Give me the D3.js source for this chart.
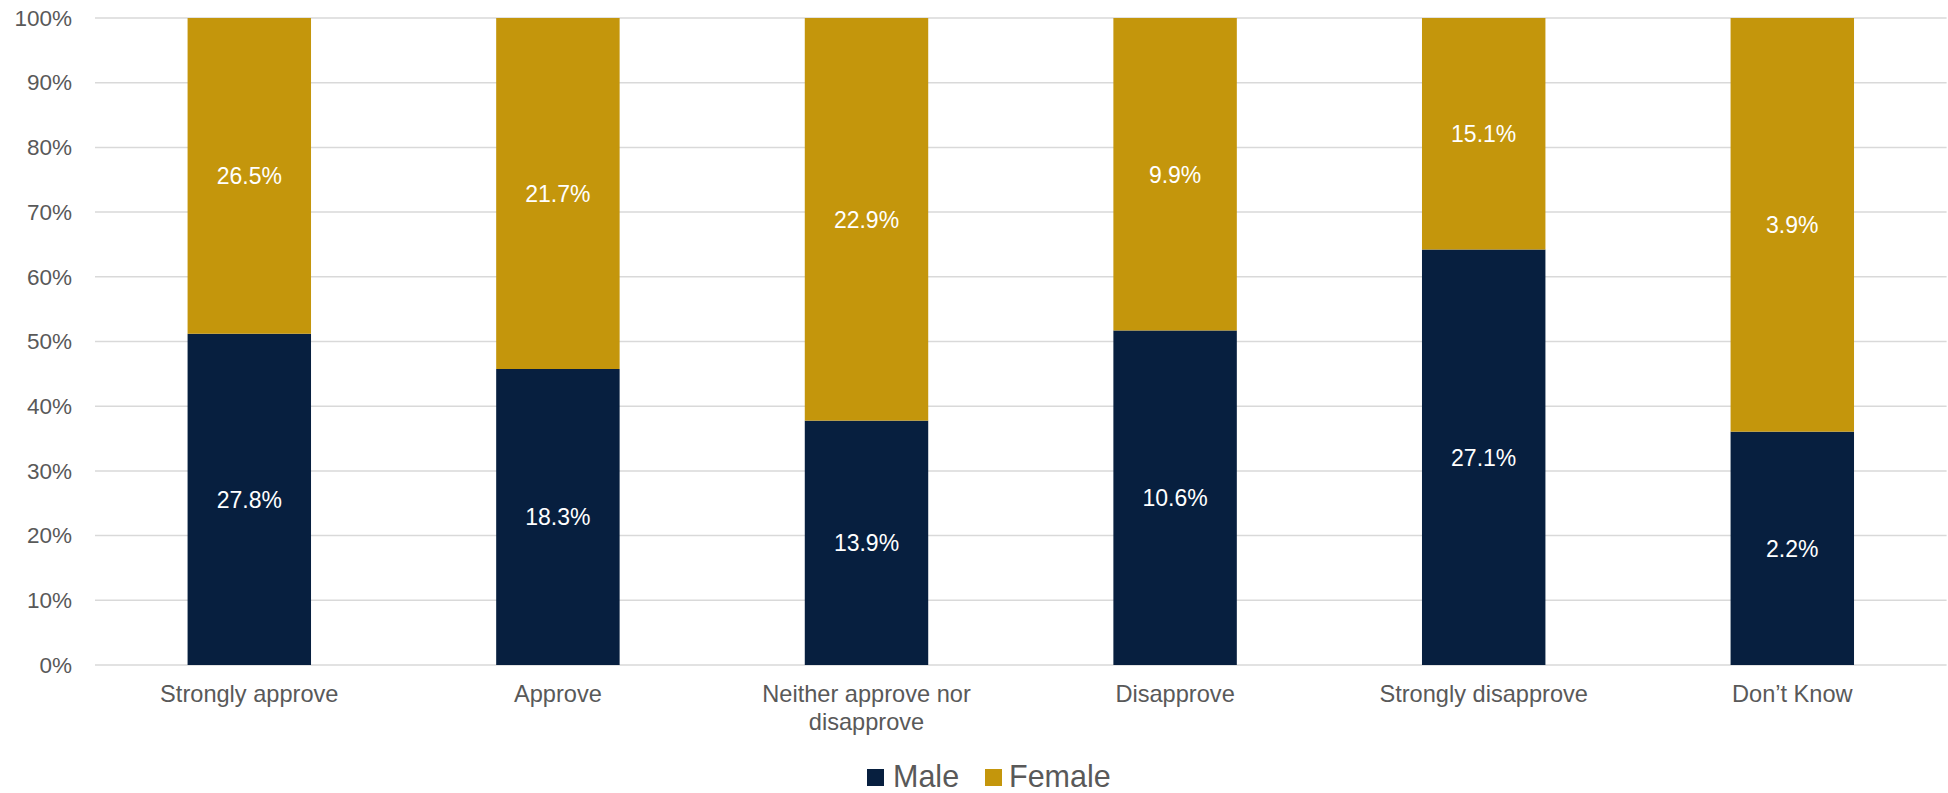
<!DOCTYPE html>
<html>
<head>
<meta charset="utf-8">
<script src="https://cdn.jsdelivr.net/npm/d3@7"></script>
<style>
  html, body { margin: 0; padding: 0; background: #ffffff; }
  svg { display: block; font-family: "Liberation Sans", Arial, sans-serif; }
</style>
</head>
<body>
<svg id="chart" width="1948" height="793"></svg>
<script>
// Responses by gender (share of all respondents, %)
const categories = ["Strongly approve", "Approve", "Neither approve nor disapprove", "Disapprove", "Strongly disapprove", "Don\u2019t Know"];
const categoryLines = [["Strongly approve"], ["Approve"], ["Neither approve nor", "disapprove"], ["Disapprove"], ["Strongly disapprove"], ["Don\u2019t Know"]];
const male = [27.8, 18.3, 13.9, 10.6, 27.1, 2.2];
const female = [26.5, 21.7, 22.9, 9.9, 15.1, 3.9];
const seriesNames = ["Male", "Female"];
const yTicks = [0, 0.1, 0.2, 0.3, 0.4, 0.5, 0.6, 0.7, 0.8, 0.9, 1.0];

const colors = { Male: "#071f3f", Female: "#c4960c" };

const svg = d3.select("#chart");
const margin = { left: 95, right: 1.4, top: 18, bottom: 128 };
const W = 1948, H = 793;

const x = d3.scaleBand()
  .domain(categories)
  .range([margin.left, W - margin.right])
  .paddingInner(0.6)
  .paddingOuter(0.3);

const y = d3.scaleLinear()
  .domain([0, 1])
  .range([H - margin.bottom, margin.top]);

// 100% stacking: each column normalised to its own total
const rows = categories.map((c, i) => ({ category: c, Male: male[i], Female: female[i] }));
const stack = d3.stack().keys(seriesNames).offset(d3.stackOffsetExpand);
const layers = stack(rows);

// Gridlines
const grid = svg.append("g");
grid.selectAll("line")
  .data(yTicks)
  .join("line")
  .attr("x1", margin.left)
  .attr("x2", W - margin.right)
  .attr("y1", d => y(d))
  .attr("y2", d => y(d))
  .attr("stroke", "#d9d9d9")
  .attr("stroke-width", 1.5);

// Y axis labels
const yAxis = d3.axisLeft(y)
  .tickValues(yTicks)
  .tickFormat(d3.format(".0%"))
  .tickSize(0)
  .tickPadding(23);
svg.append("g")
  .attr("transform", `translate(${margin.left},0)`)
  .call(yAxis)
  .call(g => g.select(".domain").remove())
  .call(g => g.selectAll("text")
    .attr("fill", "#595959")
    .attr("font-size", "22.5px")
    .attr("font-family", "Liberation Sans, Arial, sans-serif"));

// Bars
const layerG = svg.append("g")
  .selectAll("g")
  .data(layers)
  .join("g")
  .attr("fill", d => colors[d.key]);

layerG.selectAll("rect")
  .data(d => d)
  .join("rect")
  .attr("x", d => x(d.data.category))
  .attr("width", x.bandwidth())
  .attr("y", d => y(d[1]))
  .attr("height", d => y(d[0]) - y(d[1]));

// Value labels centred in each segment
const labelG = svg.append("g");
layers.forEach(layer => {
  labelG.selectAll(null)
    .data(layer)
    .join("text")
    .attr("x", d => x(d.data.category) + x.bandwidth() / 2)
    .attr("y", d => y((d[0] + d[1]) / 2))
    .attr("dy", "0.36em")
    .attr("text-anchor", "middle")
    .attr("fill", "#ffffff")
    .attr("font-size", "23px")
    .text(d => d.data[layer.key].toFixed(1) + "%");
});

// Category labels
const xLab = svg.append("g");
categories.forEach((c, i) => {
  const t = xLab.append("text")
    .attr("x", x(c) + x.bandwidth() / 2)
    .attr("y", 702)
    .attr("text-anchor", "middle")
    .attr("fill", "#595959")
    .attr("font-size", "23.6px");
  categoryLines[i].forEach((line, j) => {
    t.append("tspan")
      .attr("x", x(c) + x.bandwidth() / 2)
      .attr("dy", j === 0 ? 0 : 27.5)
      .text(line);
  });
});

// Legend
const legend = svg.append("g");
const legendItems = [
  { name: "Male", sx: 867, tx: 893 },
  { name: "Female", sx: 985, tx: 1009 }
];
legendItems.forEach(it => {
  legend.append("rect")
    .attr("x", it.sx)
    .attr("y", 769)
    .attr("width", 17)
    .attr("height", 17)
    .attr("fill", colors[it.name]);
  legend.append("text")
    .attr("x", it.tx)
    .attr("y", 787)
    .attr("fill", "#595959")
    .attr("font-size", "30.5px")
    .text(it.name);
});
</script>
</body>
</html>
